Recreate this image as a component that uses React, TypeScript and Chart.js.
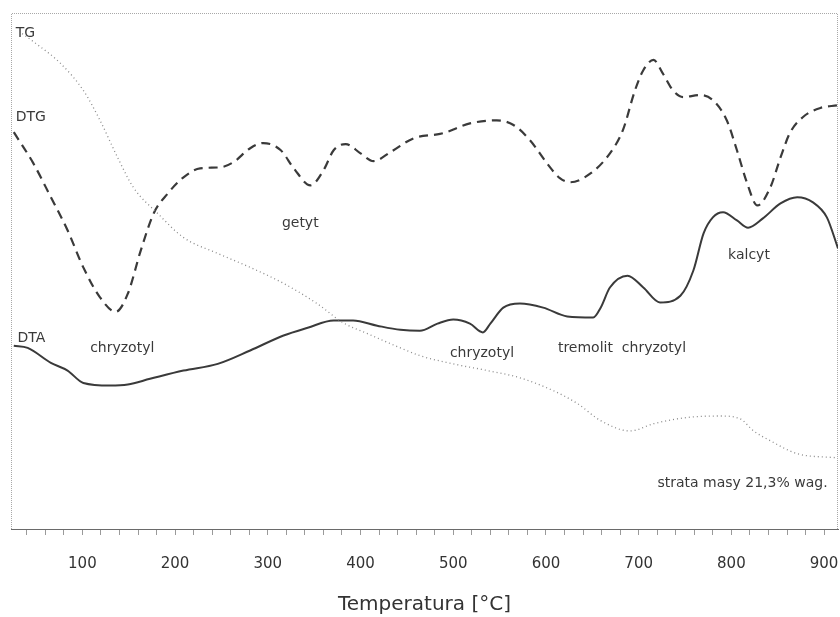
import React, { useEffect, useRef } from "react";
import { Chart, registerables } from "chart.js";

Chart.register(...registerables);

// Temperature [°C] and relative signal values
const dtgTemps = [26, 47, 66, 84, 101, 119, 136, 149, 163, 177, 192, 208, 227, 249, 263, 281, 295, 314, 328, 346, 360, 371, 384, 400, 414, 432, 457, 489, 518, 547, 565, 583, 601, 615, 626, 648, 669, 683, 696, 705, 716, 726, 737, 748, 766, 780, 795, 806, 817, 828, 842, 853, 863, 877, 896, 914];
const dtgValues = [76.9, 70.9, 64.3, 57.9, 50.7, 44.9, 42.1, 45.6, 54.0, 61.2, 65.0, 68.0, 69.9, 70.1, 71.1, 73.8, 74.8, 73.4, 69.9, 66.6, 69.5, 73.4, 74.6, 72.8, 71.3, 73.0, 75.7, 76.7, 78.6, 79.2, 78.3, 75.3, 70.9, 68.0, 67.2, 68.9, 72.8, 77.3, 85.0, 88.9, 90.9, 88.3, 85.0, 83.7, 84.1, 83.1, 79.2, 73.4, 67.0, 62.7, 66.2, 72.0, 76.7, 79.8, 81.6, 82.1];

const dtaTemps = [26, 41, 66, 84, 101, 130, 149, 173, 209, 246, 281, 317, 343, 371, 392, 418, 443, 464, 483, 500, 518, 532, 540, 554, 572, 597, 623, 651, 659, 669, 688, 705, 723, 745, 759, 770, 780, 791, 806, 818, 834, 853, 871, 888, 903, 915];
const dtaValues = [35.5, 35.1, 32.2, 30.7, 28.3, 27.8, 28.0, 29.1, 30.7, 32.0, 34.6, 37.5, 39.0, 40.4, 40.4, 39.4, 38.6, 38.4, 39.8, 40.6, 39.8, 38.1, 39.8, 42.9, 43.7, 42.9, 41.2, 41.0, 42.9, 46.8, 49.1, 46.8, 43.9, 45.2, 50.1, 57.3, 60.4, 61.4, 59.8, 58.4, 60.2, 63.1, 64.3, 63.3, 60.4, 54.4];

const tgTemps = [35, 49, 76, 101, 119, 138, 155, 181, 209, 246, 281, 317, 353, 381, 407, 443, 464, 500, 537, 572, 608, 634, 659, 691, 716, 752, 788, 809, 824, 842, 871, 914];
const tgValues = [96.0, 94.2, 90.3, 85.0, 79.2, 72.0, 66.2, 61.2, 56.5, 53.4, 50.7, 47.6, 43.7, 40.0, 37.9, 35.1, 33.6, 32.0, 30.7, 29.3, 26.8, 24.3, 21.0, 19.0, 20.4, 21.6, 21.9, 21.4, 19.0, 17.1, 14.6, 13.8];

const tickValues = [40, 60, 80, 100, 120, 140, 160, 180, 200, 220, 240, 260, 280, 300, 320, 340, 360, 380, 400, 420, 440, 460, 480, 500, 520, 540, 560, 580, 600, 620, 640, 660, 680, 700, 720, 740, 760, 780, 800, 820, 840, 860, 880, 900];
const labelledTicks = [100, 200, 300, 400, 500, 600, 700, 800, 900];

const annotationTexts = ["TG", "DTG", "DTA", "chryzotyl", "getyt", "chryzotyl", "tremolit  chryzotyl", "kalcyt", "strata masy 21,3% wag."];
const annotationTemps = [28, 28, 30, 143, 335, 531, 682, 819, 812];
const annotationValues = [96.1, 79.8, 36.9, 35.1, 59.2, 34.0, 35.0, 53.0, 8.9];
const annotationAlign = ["left", "left", "left", "center", "center", "center", "center", "center", "center"];

const xTitle = "Temperatura [°C]";

const toPoints = (xs: number[], ys: number[]) => xs.map((x, i) => ({ x, y: ys[i] }));

const frameAndText = {
  id: "frameAndText",
  beforeDatasetsDraw(chart: any) {
    const { ctx, chartArea } = chart;
    ctx.save();
    ctx.strokeStyle = "#a8a8a8";
    ctx.lineWidth = 1;
    ctx.setLineDash([1, 1]);
    ctx.beginPath();
    ctx.moveTo(chartArea.left + 0.5, chartArea.bottom);
    ctx.lineTo(chartArea.left + 0.5, chartArea.top + 0.5);
    ctx.lineTo(chartArea.right - 0.5, chartArea.top + 0.5);
    ctx.lineTo(chartArea.right - 0.5, chartArea.bottom);
    ctx.stroke();
    ctx.restore();
  },
  afterDatasetsDraw(chart: any) {
    const { ctx, scales } = chart;
    ctx.save();
    ctx.fillStyle = "#3a3a3a";
    ctx.font = "14px 'DejaVu Sans'";
    ctx.textBaseline = "middle";
    annotationTexts.forEach((t, i) => {
      ctx.textAlign = annotationAlign[i];
      ctx.fillText(t, scales.x.getPixelForValue(annotationTemps[i]), scales.y.getPixelForValue(annotationValues[i]));
    });
    ctx.restore();
  },
};

export default function App() {
  const ref = useRef<HTMLCanvasElement | null>(null);
  useEffect(() => {
    if (!ref.current) return;
    const chart = new Chart(ref.current, {
      type: "line",
      data: {
        datasets: [
          {
            label: "TG",
            data: toPoints(tgTemps, tgValues),
            borderColor: "#8a8a8a",
            borderWidth: 1.3,
            borderDash: [1, 3],
            pointRadius: 0,
            cubicInterpolationMode: "monotone",
          },
          {
            label: "DTG",
            data: toPoints(dtgTemps, dtgValues),
            borderColor: "#3a3a3a",
            borderWidth: 2.2,
            borderDash: [9, 6],
            pointRadius: 0,
            cubicInterpolationMode: "monotone",
          },
          {
            label: "DTA",
            data: toPoints(dtaTemps, dtaValues),
            borderColor: "#3a3a3a",
            borderWidth: 2,
            pointRadius: 0,
            cubicInterpolationMode: "monotone",
          },
        ],
      },
      options: {
        animation: false,
        responsive: false,
        devicePixelRatio: 1,
        layout: { padding: { left: 11, top: 13, right: 2, bottom: 0 } },
        plugins: { legend: { display: false }, tooltip: { enabled: false } },
        scales: {
          x: {
            type: "linear",
            min: 23,
            max: 915,
            afterBuildTicks: (scale: any) => {
              scale.ticks = tickValues.map((v) => ({ value: v }));
            },
            afterFit: (scale: any) => {
              scale.paddingLeft = 0;
              scale.paddingRight = 0;
            },
            border: { display: true, color: "#6a6a6a", width: 1 },
            grid: { drawOnChartArea: false, drawTicks: true, tickLength: 6, tickColor: "#9a9a9a" },
            ticks: {
              autoSkip: false,
              maxRotation: 0,
              padding: 20,
              color: "#333",
              font: { family: "'DejaVu Sans'", size: 15 },
              callback: (v: any) => (labelledTicks.includes(Number(v)) ? String(v) : ""),
            },
            title: {
              display: true,
              text: xTitle,
              color: "#333",
              font: { family: "'DejaVu Sans'", size: 20 },
              padding: { top: 0, bottom: 0 },
            },
          },
          y: { type: "linear", display: false, min: 0, max: 100 },
        },
      },
      plugins: [frameAndText],
    });
    return () => chart.destroy();
  }, []);
  return (
    <div style={{ position: "absolute", left: 0, top: 0, width: 840, height: 617, background: "#fff" }}>
      <canvas ref={ref} width={840} height={617} />
    </div>
  );
}
